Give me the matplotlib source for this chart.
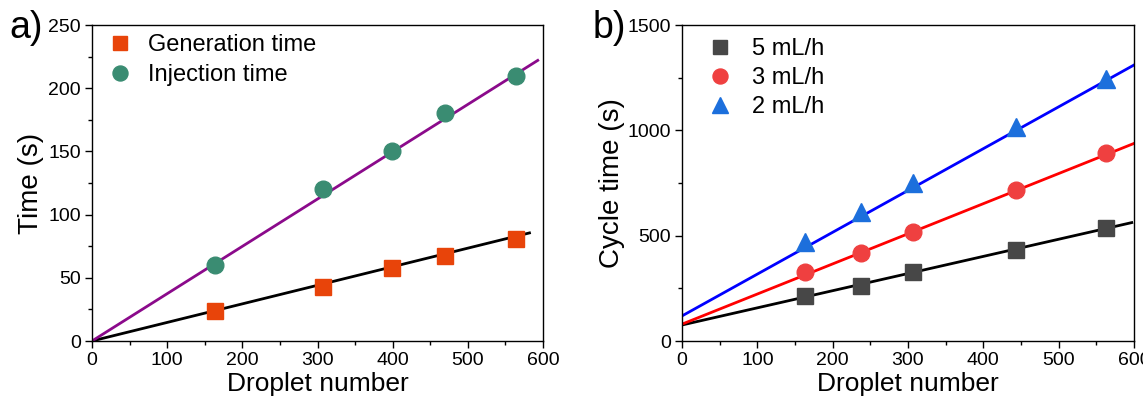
import matplotlib
matplotlib.use("Agg")
import matplotlib.pyplot as plt
from matplotlib.ticker import MultipleLocator

plt.rcParams['font.family'] = ['Liberation Sans', 'DejaVu Sans']

# ---- panel a data ----
a_x = [163, 307, 399, 469, 564]
a_generation = [24, 43, 58, 67, 81]
a_injection = [60, 120, 150, 180, 210]
a_fit_gen_x = [0, 582]
a_fit_gen_y = [0, 85.5]
a_fit_inj_x = [0, 593]
a_fit_inj_y = [0, 222]

# ---- panel b data ----
b_x = [163, 237, 306, 443, 563]
b_5 = [213, 262, 329, 432, 538]
b_3 = [326, 416, 516, 717, 894]
b_2 = [470, 612, 748, 1016, 1246]
b_fit5_x = [0, 597]
b_fit5_y = [76, 562]
b_fit3_x = [0, 605]
b_fit3_y = [80, 945]
b_fit2_x = [0, 605]
b_fit2_y = [119, 1320]

W, H = 1143, 405
fig = plt.figure(figsize=(W / 100, H / 100), dpi=100)

axA = fig.add_axes([92 / W, (H - 341) / H, (543 - 92) / W, (341 - 25) / H])
axB = fig.add_axes([682 / W, (H - 341) / H, (1134 - 682) / W, (341 - 25) / H])

tick_fs = 14
xlabel_fs = 19
ylabel_fs = 20
leg_fs = 17

for ax in (axA, axB):
    for s in ax.spines.values():
        s.set_linewidth(1.0)
    ax.tick_params(which='both', direction='out', top=False, right=False,
                   labelsize=tick_fs, pad=3)
    ax.tick_params(which='major', length=5, width=1)
    ax.tick_params(which='minor', length=3, width=1)
    ax.set_xlim(0, 600)
    ax.xaxis.set_major_locator(MultipleLocator(100))
    ax.xaxis.set_minor_locator(MultipleLocator(50))
    ax.set_xlabel('Droplet number', fontsize=xlabel_fs, labelpad=2)

# panel a
axA.plot(a_fit_gen_x, a_fit_gen_y, color='black', lw=2, zorder=2)
axA.plot(a_fit_inj_x, a_fit_inj_y, color='#8B0A8B', lw=2, zorder=2)
axA.plot(a_x, a_generation, 's', color='#E8440A', ms=11, ls='none',
         label='Generation time', zorder=3)
axA.plot(a_x, a_injection, 'o', color='#3A8C72', ms=12, ls='none',
         label='Injection time', zorder=3)
axA.set_ylim(0, 250)
axA.yaxis.set_major_locator(MultipleLocator(50))
axA.yaxis.set_minor_locator(MultipleLocator(25))
axA.set_ylabel('Time (s)', fontsize=ylabel_fs, labelpad=3)
axA.legend(loc='upper left', frameon=False, fontsize=leg_fs,
           bbox_to_anchor=(0.036, 0.971), handletextpad=0.69, labelspacing=0.34,
           handlelength=1.0, borderaxespad=0, borderpad=0, markerscale=0.9)
fig.text(9 / W, 1 - 38 / H, 'a)', fontsize=27, va='baseline', ha='left')

# panel b
axB.plot(b_fit5_x, b_fit5_y, color='black', lw=2, zorder=2)
axB.plot(b_fit3_x, b_fit3_y, color='#FF0000', lw=2, zorder=2)
axB.plot(b_fit2_x, b_fit2_y, color='#0000FF', lw=2, zorder=2)
axB.plot(b_x, b_5, 's', color='#474747', ms=11, ls='none', label='5 mL/h', zorder=3)
axB.plot(b_x, b_3, 'o', color='#EF4040', ms=12, ls='none', label='3 mL/h', zorder=3)
axB.plot(b_x, b_2, '^', color='#1C6FDC', ms=13, ls='none', label='2 mL/h', zorder=3)
axB.set_ylim(0, 1500)
axB.yaxis.set_major_locator(MultipleLocator(500))
axB.yaxis.set_minor_locator(MultipleLocator(250))
axB.set_ylabel('Cycle time (s)', fontsize=ylabel_fs, labelpad=2)
axB.legend(loc='upper left', frameon=False, fontsize=leg_fs,
           bbox_to_anchor=(0.058, 0.959), handletextpad=0.86, labelspacing=0.3,
           handlelength=1.0, borderaxespad=0, borderpad=0, markerscale=0.9)
fig.text(593 / W, 1 - 38 / H, 'b)', fontsize=27, va='baseline', ha='left')

fig.savefig('out.png', dpi=100)
